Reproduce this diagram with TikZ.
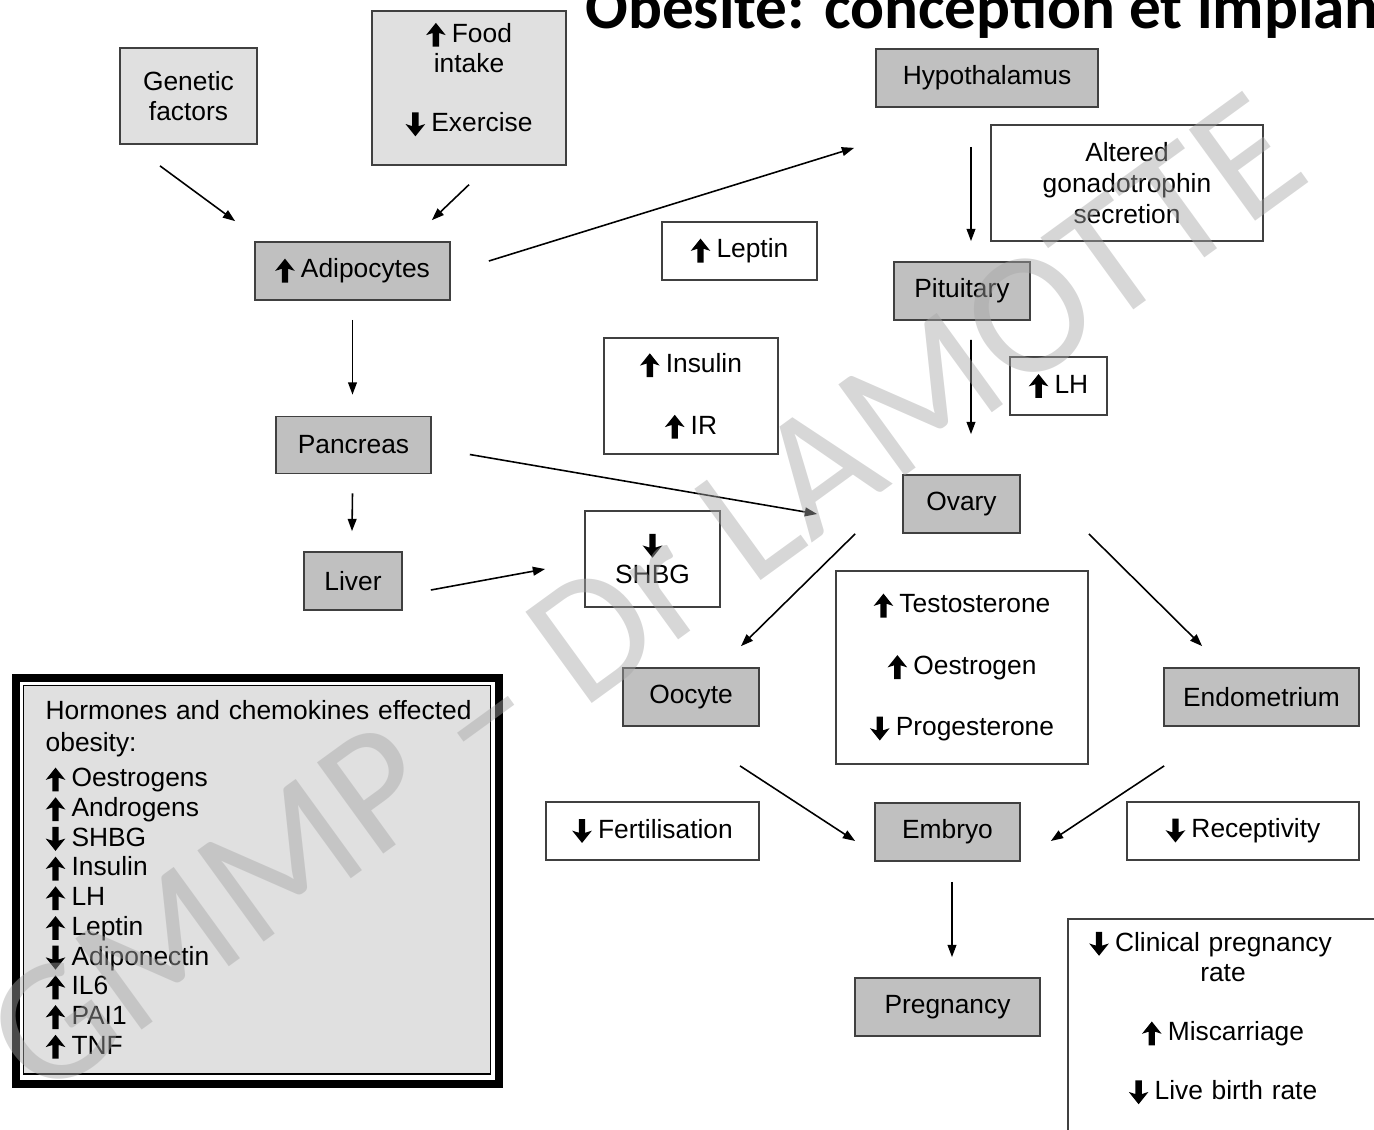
\documentclass[tikz,border=0pt]{standalone}
\usepackage{fontspec}
\setmainfont{Liberation Sans}
\newfontfamily\titlefont{Carlito}
\usetikzlibrary{arrows.meta}

\definecolor{organgray}{HTML}{C0C0C0}
\definecolor{causegray}{HTML}{E0E0E0}

% heavy up/down arrows used in the labels
\newcommand{\arrowup}{\tikz[baseline=0pt, x=1pt, y=1pt]
  \fill (-1.8,-2.6) -- (1.8,-2.6) -- (1.8,5.2) -- (5.6,4) -- (0,11) -- (-5.6,4) -- (-1.8,5.2) -- cycle;}
\newcommand{\arrowdown}{\tikz[baseline=0pt, x=1pt, y=1pt]
  \fill (-1.8,11) -- (1.8,11) -- (1.8,3.2) -- (5.6,4.4) -- (0,-2.6) -- (-5.6,4.4) -- (-1.8,3.2) -- cycle;}
\newcommand{\upar}{\arrowup\kern3.5pt}
\newcommand{\dnar}{\arrowdown\kern3.5pt}

\begin{document}
\begin{tikzpicture}[x=0.02cm, y=-0.02cm,
  box/.style={draw=black!75, line width=1pt, inner sep=0pt, align=center,
    font=\fontsize{15}{17.5}\selectfont},
  organ/.style={box, fill=organgray},
  cause/.style={box, fill=causegray},
  effect/.style={box, fill=white},
  link/.style={line width=0.9pt, -{Triangle[length=7pt, width=5pt]}}
]
\useasboundingbox (0,0) rectangle (1374,1130);
\clip (0,0) rectangle (1374,1130);

% title, cut by the top edge
\node[anchor=base west, inner sep=0pt,
  font=\titlefont\bfseries\fontsize{36}{40}\selectfont] (title) at (585,28)
  {Obésité: conception et implantation};

% ---------- causes ----------
\node[cause, minimum width=2.74cm, minimum height=1.92cm] (genetic) at (188.5,96) {Genetic\\factors};
\node[cause, anchor=north, minimum width=3.88cm, text width=3.5cm, inner ysep=6.8pt,
  text height=11pt, text depth=63pt] (lifestyle) at (469,10)
  {\upar Food\\intake\\[16pt]\dnar Exercise};

% ---------- organs ----------
\node[organ, minimum width=3.9cm,  minimum height=1.16cm] (adipo)     at (352.5,271)  {\upar Adipocytes};
\node[organ, minimum width=4.44cm, minimum height=1.16cm] (hypothal)  at (987,78)     {Hypothalamus};
\node[organ, minimum width=2.72cm, minimum height=1.16cm] (pituitary) at (962,291)    {Pituitary};
\node[organ, minimum width=2.34cm, minimum height=1.16cm] (ovary)     at (961.5,504)  {Ovary};
\node[organ, minimum width=3.1cm,  minimum height=1.14cm] (pancreas)  at (353.5,445)  {Pancreas};
\node[organ, minimum width=1.96cm, minimum height=1.16cm] (liver)     at (353,581)    {Liver};
\node[organ, minimum width=2.72cm, minimum height=1.16cm] (oocyte)    at (691,697)    {Oocyte};
\node[organ, minimum width=3.9cm,  minimum height=1.16cm] (endomet)   at (1261.5,697) {Endometrium};
\node[organ, minimum width=2.9cm,  minimum height=1.16cm] (embryo)    at (947.5,832)  {Embryo};
\node[organ, minimum width=3.7cm,  minimum height=1.16cm] (pregnancy) at (947.5,1007) {Pregnancy};

% ---------- effects ----------
\node[effect, minimum width=5.44cm, minimum height=2.32cm] (gonado)   at (1127,183)  {Altered\\gonadotrophin\\secretion};
\node[effect, minimum width=1.94cm, minimum height=1.16cm] (lh)       at (1058.5,386){\upar LH};
\node[effect, minimum width=3.1cm,  minimum height=1.16cm] (leptin)   at (739.5,251) {\upar Leptin};
\node[effect, minimum width=3.48cm, minimum height=2.32cm] (insulin)  at (691,396)   {\upar Insulin\\[17.5pt]\upar IR};
\node[effect, minimum width=2.7cm,  minimum height=1.92cm] (shbg)     at (652.5,559) {\arrowdown\\SHBG};
\node[effect, minimum width=5.04cm, minimum height=3.86cm] (steroids) at (962,667.5)
  {\upar Testosterone\\[17.5pt]\upar Oestrogen\\[17.5pt]\dnar Progesterone};
\node[effect, minimum width=4.26cm, minimum height=1.16cm] (fertil)   at (652.5,831) {\dnar Fertilisation};
\node[effect, minimum width=4.64cm, minimum height=1.16cm] (recept)   at (1243,831)  {\dnar Receptivity};
\node[effect, anchor=north, minimum width=6.2cm, text width=6.2cm, inner ysep=7.4pt,
  text height=11pt, text depth=150pt] (outcome) at (1223,918)
  {\hspace*{-0.5cm}\dnar Clinical pregnancy\\rate\\[16pt]\upar Miscarriage\\[16pt]\dnar Live birth rate};

% ---------- legend ----------
\node[draw=black, line width=0.8pt, fill=causegray, anchor=north west,
  minimum width=9.34cm, text width=8.46cm, inner xsep=0.44cm, inner ysep=8.5pt,
  text height=11pt, text depth=193pt, align=left,
  font=\fontsize{15}{16.9}\selectfont] (legend) at (23,685)
  {\mbox{Hormones and chemokines effected}\\[1.3pt]
   obesity:\\[3pt]
   \upar Oestrogens\\ \upar Androgens\\ \dnar SHBG\\ \upar Insulin\\ \upar LH\\
   \upar Leptin\\ \dnar Adiponectin\\ \upar IL6\\ \upar PAI1\\ \upar TNF};
\draw[line width=4.5pt] ([shift={(-7,-7)}]legend.north west) rectangle ([shift={(8,9)}]legend.south east);

% ---------- connectors ----------
\draw[link] ([shift={(-28.5,21)}]genetic.south)  -- ([shift={(-19,-20)}]adipo.north west);
\draw[link] ([shift={(0,19)}]lifestyle.south)    -- ([shift={(-19,-21)}]adipo.north east);
\draw[link] ([shift={(38,-10)}]adipo.east)       -- ([shift={(-21,40)}]hypothal.south west);
\draw[link] ([shift={(-16,39)}]hypothal.south)   -- ([shift={(9,-20)}]pituitary.north);
\draw[link] ([shift={(9,19)}]pituitary.south)    -- ([shift={(9.5,-40)}]ovary.north);
\draw[link] ([shift={(0,19)}]adipo.south)        -- ([shift={(-1,-21)}]pancreas.north);
\draw[link] ([shift={(38,9.5)}]pancreas.east)    -- ([shift={(-85,10)}]ovary.west);
\draw[link] ([shift={(-1,19)}]pancreas.south)    -- ([shift={(-1,-20)}]liver.north);
\draw[link] ([shift={(28,9)}]liver.east)         -- ([shift={(-39,10)}]shbg.west);
\draw[link] ([shift={(-47,0)}]ovary.south west)  -- ([shift={(50,-21)}]oocyte.north);
\draw[link] ([shift={(68,0)}]ovary.south east)   -- ([shift={(39,-21)}]endomet.north west);
\draw[link] ([shift={(49,39)}]oocyte.south)      -- ([shift={(-19,9)}]embryo.west);
\draw[link] ([shift={(1,39)}]endomet.south west) -- ([shift={(30,9)}]embryo.east);
\draw[link] ([shift={(4.5,20)}]embryo.south)     -- ([shift={(4.5,-20)}]pregnancy.north);

% watermark over everything
\node[rotate=36, text=black!35, opacity=0.45, inner sep=0pt,
  font=\titlefont\fontsize{100}{100}\selectfont] (watermark) at (645,595) {GMMP – Dr LAMOTTE};
\end{tikzpicture}
\end{document}
